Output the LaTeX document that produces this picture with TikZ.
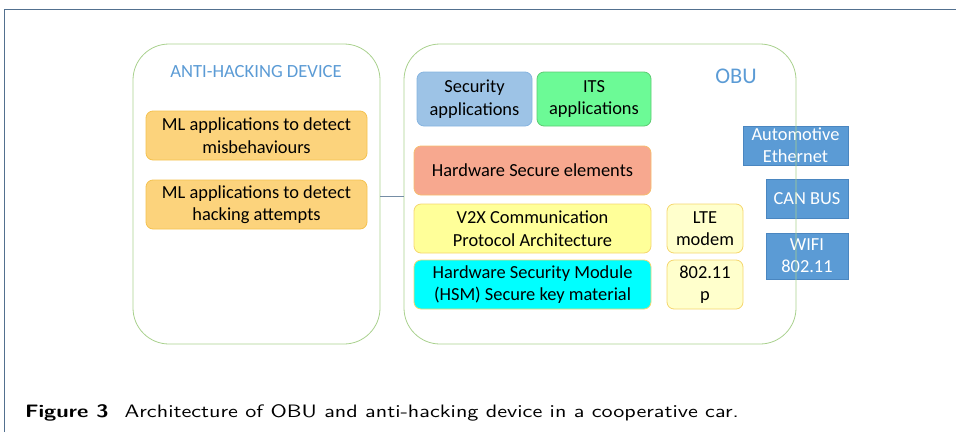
\documentclass[tikz,border=0pt]{standalone}
\usepackage{fontspec}
\setmainfont{Carlito}
\newfontfamily\capfont{lmsans10-regular.otf}[BoldFont=lmsans10-bold.otf, FakeStretch=1.23]
\begin{document}
\begin{tikzpicture}[x=1pt,y=-1pt,
  every node/.style={inner sep=0pt,outer sep=0pt},
  unit/.style={draw=unitgreen, line width=0.8pt, rounded corners=36pt},
  card/.style={rounded corners=7pt, line width=0.8pt, align=center,
    font=\fontsize{18.4}{22.5}\selectfont, text=black},
  port/.style={draw=portedge, fill=portblue, line width=0.8pt, align=center,
    font=\fontsize{18.4}{22}\selectfont, text=white},
  title/.style={text=titleblue, font=\fontsize{18.6}{21}\selectfont}]
\definecolor{framecol}{HTML}{52708F}
\definecolor{unitgreen}{HTML}{A9D18E}
\definecolor{titleblue}{HTML}{5B9BD5}
\definecolor{mlfill}{HTML}{FCD37C}
\definecolor{mledge}{HTML}{F4C250}
\definecolor{secfill}{HTML}{9DC3E6}
\definecolor{secedge}{HTML}{86B4E0}
\definecolor{itsfill}{HTML}{6CFA96}
\definecolor{itsedge}{HTML}{5CCB72}
\definecolor{hwfill}{HTML}{F7A88F}
\definecolor{hwedge}{HTML}{F6BD6E}
\definecolor{vfill}{HTML}{FFFF99}
\definecolor{vedge}{HTML}{F5D66E}
\definecolor{hsmfill}{HTML}{00FFFF}
\definecolor{ltefill}{HTML}{FFFFCC}
\definecolor{portblue}{HTML}{5B9BD5}
\definecolor{portedge}{HTML}{4A86C0}
\useasboundingbox (0,0) rectangle (956,432);
% page frame
\draw[framecol, line width=1pt] (4.5,432) -- (4.5,9) -- (956,9);

% anti-hacking device
\node[unit, minimum width=247pt, minimum height=300pt, anchor=north west] (ahd) at (133,44) {};
\node[title] (ahdt) at (256,72) {ANTI-HACKING DEVICE};
\node[card, draw=mledge, fill=mlfill, minimum width=221pt, minimum height=49pt] (ml1) at (256.5,135.5)
  {ML applications to detect\\misbehaviours};
\node[card, draw=mledge, fill=mlfill, minimum width=221pt, minimum height=49pt] (ml2) at (256.5,204.5)
  {ML applications to detect\\hacking attempts};

% OBU ports (behind the unit outline)
\node[port, minimum width=105pt, minimum height=39pt] (eth) at (795.5,145.5) {Automotive\\Ethernet};
\node[port, minimum width=82pt, minimum height=39pt] (can) at (807,198.5) {CAN BUS};
\node[port, minimum width=82pt, minimum height=46pt] (wifi) at (807,256) {WIFI\\802.11};

% OBU
\node[unit, minimum width=392pt, minimum height=300pt, anchor=north west] (obu) at (404,44) {};
\node[title, font=\fontsize{22.4}{25}\selectfont] (obut) at (736,76) {OBU};
\node[card, draw=secedge, fill=secfill, minimum width=115pt, minimum height=54pt] (sec) at (474.5,99)
  {Security\\applications};
\node[card, draw=itsedge, fill=itsfill, minimum width=114pt, minimum height=54pt] (its) at (594,99)
  {ITS\\applications};
\node[card, draw=hwedge, fill=hwfill, minimum width=237pt, minimum height=49pt] (hw) at (532.5,170.5)
  {Hardware Secure elements};
\node[card, draw=vedge, fill=vfill, minimum width=237pt, minimum height=49pt] (v2x) at (532.5,228.5)
  {V2X Communication\\Protocol Architecture};
\node[card, draw=vedge, fill=hsmfill, minimum width=237pt, minimum height=49pt] (hsm) at (532.5,284.5)
  {Hardware Security Module\\(HSM) Secure key material};
\node[card, draw=vedge, fill=ltefill, minimum width=76pt, minimum height=49pt] (lte) at (705,228.5)
  {LTE\\modem};
\node[card, draw=vedge, fill=ltefill, minimum width=76pt, minimum height=49pt] (p80211) at (705,284.5)
  {802.11\\p};

% link between the two units
\draw[framecol!80, line width=0.8pt] (ahd.east |- 0,196) -- (obu.west |- 0,196);

% caption
\node[anchor=base west, font=\capfont\fontsize{18}{22}\selectfont] (cap) at (25,417)
  {\textbf{Figure 3}\hspace{16pt}Architecture of OBU and anti-hacking device in a cooperative car.};
\end{tikzpicture}
\end{document}
